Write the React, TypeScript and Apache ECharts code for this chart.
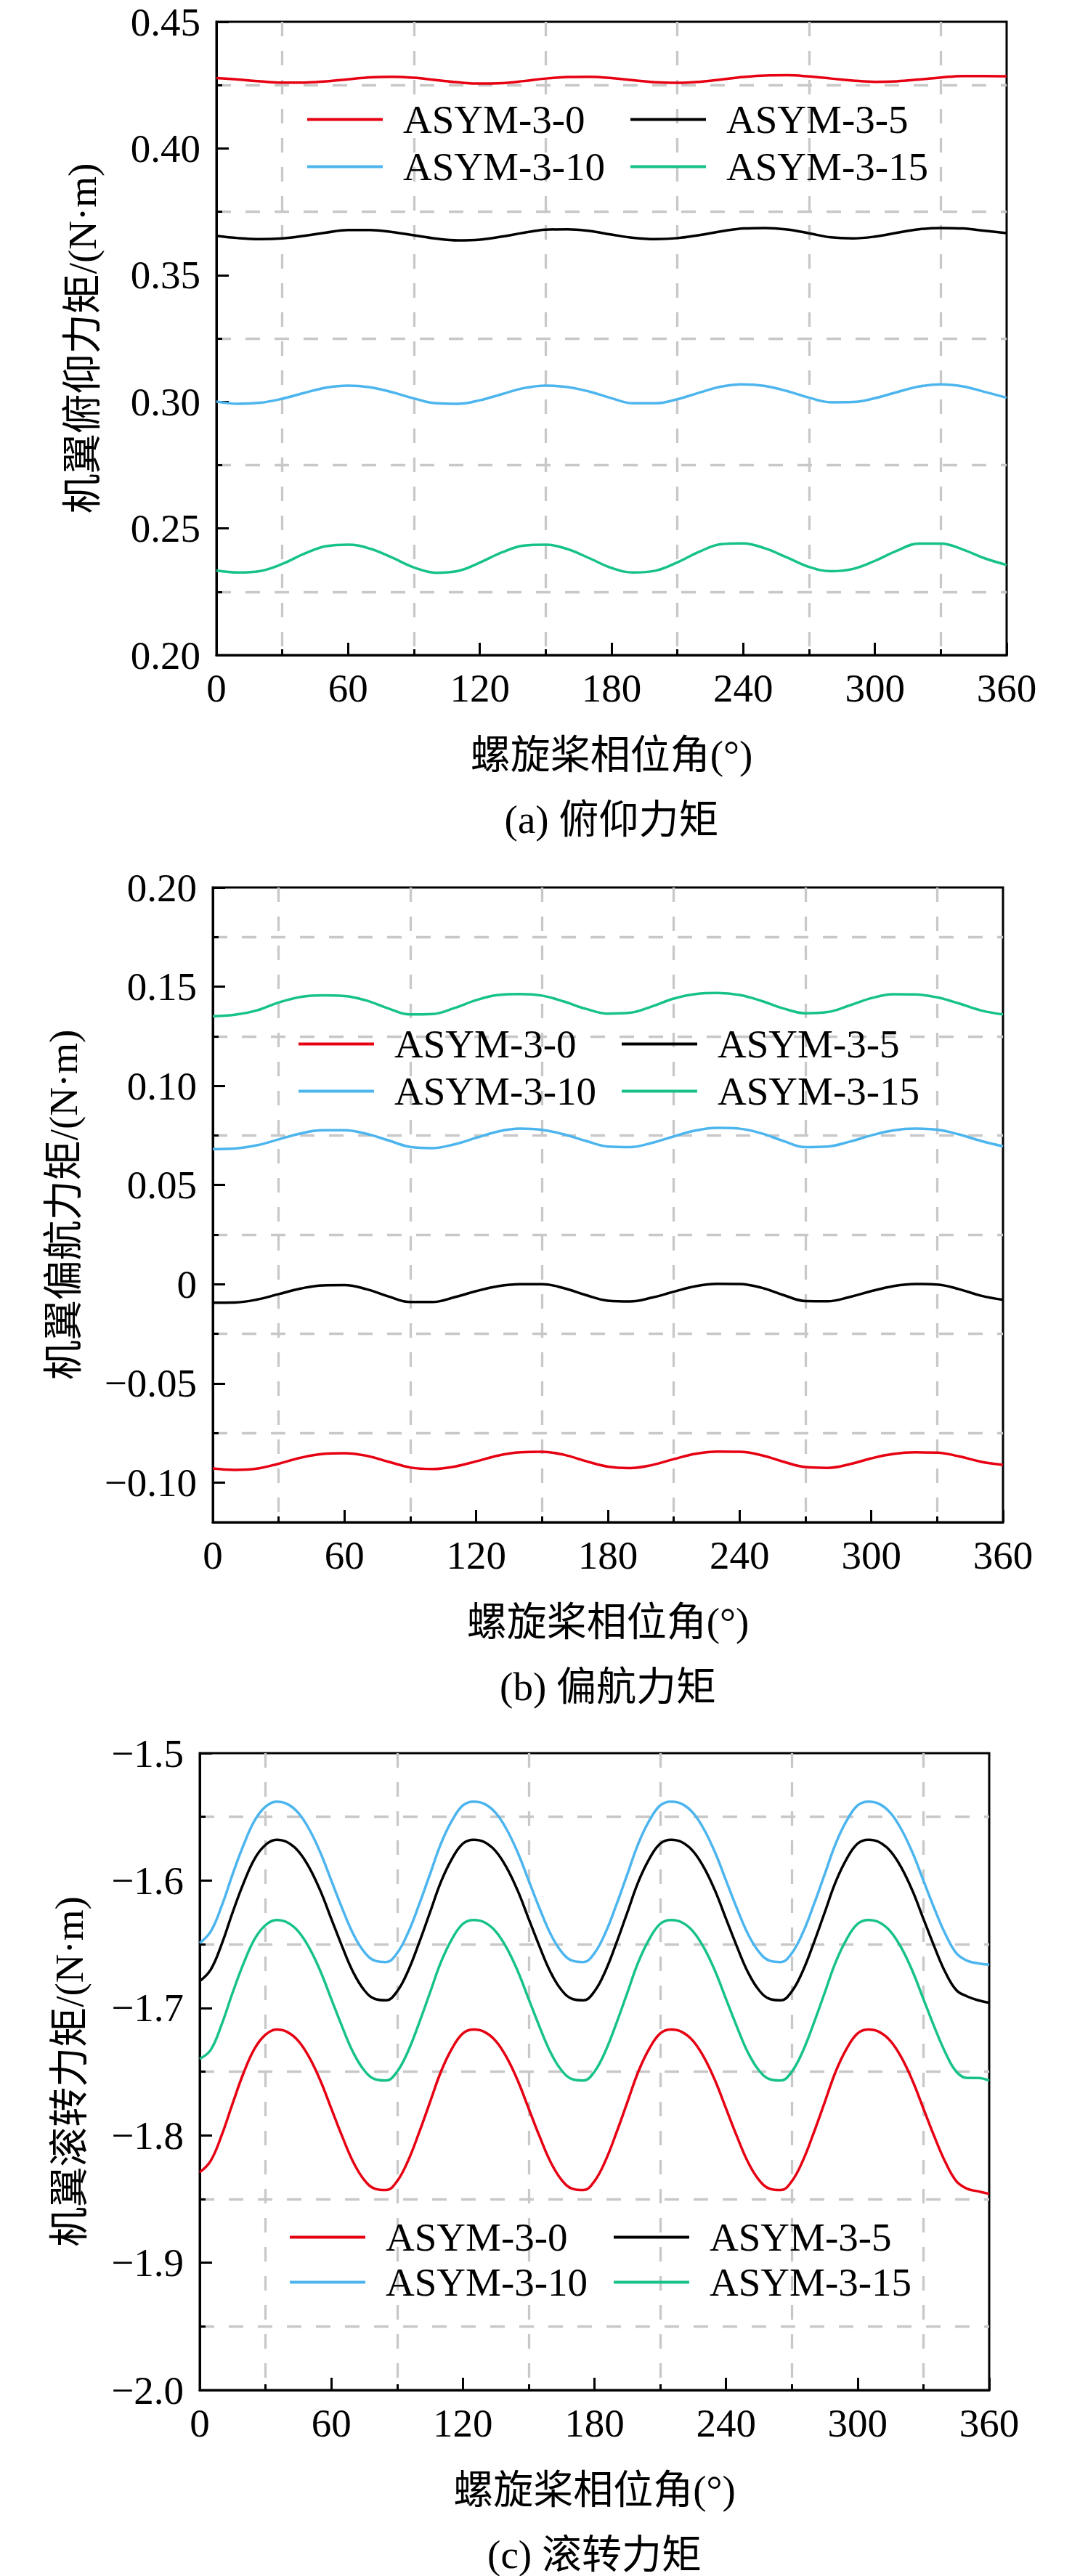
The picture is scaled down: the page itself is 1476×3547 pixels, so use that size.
import React, { useEffect, useRef } from "react";
import * as echarts from "echarts";

const FONT = "'Liberation Serif', 'Times New Roman', 'Noto Sans CJK SC', serif";

const seriesNames = ["ASYM-3-0", "ASYM-3-5", "ASYM-3-10", "ASYM-3-15"];
const seriesColors = ["#e60012", "#000000", "#4db5ee", "#17c28a"];

// 10 deg steps for (a) and (b)
const anglesCoarse = [
  0, 10, 20, 30, 40, 50, 60, 70, 80, 90, 100, 110, 120, 130, 140, 150, 160, 170, 180,
  190, 200, 210, 220, 230, 240, 250, 260, 270, 280, 290, 300, 310, 320, 330, 340, 350, 360,
];

// 5 deg steps for (c)
const anglesFine = [
  0, 5, 10, 15, 20, 25, 30, 35, 40, 45, 50, 55, 60, 65, 70, 75, 80, 85, 90, 95, 100, 105,
  110, 115, 120, 125, 130, 135, 140, 145, 150, 155, 160, 165, 170, 175, 180, 185, 190, 195,
  200, 205, 210, 215, 220, 225, 230, 235, 240, 245, 250, 255, 260, 265, 270, 275, 280, 285,
  290, 295, 300, 305, 310, 315, 320, 325, 330, 335, 340, 345, 350, 355, 360,
];

// (a) pitch moment
const pitch0 = [
  0.4278, 0.4272, 0.4265, 0.426, 0.426, 0.4265, 0.4273, 0.4281, 0.4283, 0.4279, 0.427,
  0.4261, 0.4256, 0.4258, 0.4266, 0.4276, 0.4282, 0.4283, 0.4278, 0.4269, 0.4261, 0.4259,
  0.4263, 0.4272, 0.4282, 0.4288, 0.4289, 0.4284, 0.4276, 0.4268, 0.4263, 0.4265, 0.4272,
  0.428, 0.4286, 0.4286, 0.4285,
];
const pitch5 = [
  0.3655, 0.3646, 0.3642, 0.3645, 0.3655, 0.3668, 0.3678, 0.3678, 0.367, 0.3657, 0.3644,
  0.3637, 0.364, 0.3652, 0.3667, 0.3679, 0.3681, 0.3674, 0.366, 0.3647, 0.3642, 0.3646,
  0.3658, 0.3673, 0.3684, 0.3686, 0.368, 0.3665, 0.3649, 0.3645, 0.3652, 0.3667, 0.3681,
  0.3686, 0.3684, 0.3675, 0.3666,
];
const pitch10 = [
  0.3001, 0.2992, 0.2996, 0.3012, 0.3035, 0.3056, 0.3064, 0.3057, 0.3038, 0.3013, 0.2994,
  0.2992, 0.3006, 0.303, 0.3054, 0.3064, 0.3058, 0.304, 0.3014, 0.2994, 0.2994, 0.301,
  0.3036, 0.306, 0.3069, 0.3062, 0.3042, 0.3016, 0.2998, 0.2999, 0.3014, 0.3038, 0.306,
  0.3069, 0.3061, 0.3039, 0.3016,
];
const pitch15 = [
  0.2334, 0.2326, 0.2332, 0.236, 0.24, 0.243, 0.2436, 0.242, 0.2385, 0.2346, 0.2325,
  0.2332, 0.2365, 0.2405, 0.2432, 0.2436, 0.2418, 0.2382, 0.2344, 0.2326, 0.2333, 0.2366,
  0.2408, 0.2438, 0.2441, 0.2421, 0.2385, 0.2348, 0.2331, 0.234, 0.2372, 0.2412, 0.244,
  0.244, 0.2417, 0.2382, 0.2356,
];

// (b) yaw moment
const yaw0 = [
  -0.0929, -0.0936, -0.093, -0.0905, -0.0875, -0.0856, -0.0852, -0.0865, -0.0895, -0.0924,
  -0.0932, -0.092, -0.0893, -0.0864, -0.0848, -0.0845, -0.086, -0.0892, -0.092, -0.0927,
  -0.0912, -0.0882, -0.0855, -0.0844, -0.0845, -0.0862, -0.0895, -0.0922, -0.0926, -0.0908,
  -0.0878, -0.0856, -0.0848, -0.0849, -0.0868, -0.0895, -0.0911,
];
const yaw5 = [
  -0.0093, -0.0092, -0.0078, -0.005, -0.0022, -0.0006, -0.0005, -0.0025, -0.0062, -0.009,
  -0.009, -0.0066, -0.0035, -0.001, 0.0, 0.0, -0.002, -0.0055, -0.0083, -0.0087, -0.0068,
  -0.0038, -0.001, 0.0002, 0.0001, -0.0018, -0.0055, -0.0085, -0.0086, -0.0065, -0.0035,
  -0.001, 0.0001, -0.0002, -0.0025, -0.0058, -0.0079,
];
const yaw10 = [
  0.0681, 0.0684, 0.07, 0.073, 0.076, 0.0776, 0.0776, 0.0758, 0.0725, 0.0692, 0.0686,
  0.0705, 0.0738, 0.077, 0.0784, 0.0778, 0.0755, 0.0722, 0.0694, 0.0691, 0.0712, 0.0745,
  0.0775, 0.0788, 0.0784, 0.076, 0.0722, 0.0691, 0.0694, 0.0718, 0.075, 0.0775, 0.0784,
  0.0779, 0.0755, 0.0722, 0.0695,
];
const yaw15 = [
  0.1351, 0.1358, 0.138, 0.142, 0.1448, 0.1456, 0.1453, 0.143, 0.139, 0.136, 0.1362,
  0.1392, 0.1432, 0.1458, 0.1463, 0.1455, 0.1425, 0.1388, 0.1364, 0.1368, 0.14, 0.144,
  0.1463, 0.1468, 0.1458, 0.1428, 0.139, 0.1366, 0.1372, 0.1405, 0.1442, 0.1462, 0.1461,
  0.1446, 0.1415, 0.138, 0.136,
];

// (c) roll moment
const roll0 = [
  -1.829, -1.82, -1.8, -1.775, -1.751, -1.732, -1.721, -1.717, -1.719, -1.726, -1.739,
  -1.757, -1.779, -1.801, -1.821, -1.835, -1.842, -1.843, -1.836, -1.82, -1.798, -1.774,
  -1.75, -1.732, -1.72, -1.717, -1.719, -1.726, -1.739, -1.757, -1.779, -1.801, -1.821,
  -1.835, -1.842, -1.843, -1.836, -1.82, -1.798, -1.774, -1.75, -1.732, -1.72, -1.717,
  -1.719, -1.726, -1.739, -1.757, -1.779, -1.801, -1.821, -1.835, -1.842, -1.843, -1.836,
  -1.82, -1.798, -1.774, -1.75, -1.732, -1.72, -1.717, -1.719, -1.726, -1.739, -1.757,
  -1.779, -1.801, -1.821, -1.836, -1.842, -1.844, -1.846,
];
const roll5 = [
  -1.679, -1.67, -1.65, -1.625, -1.602, -1.583, -1.572, -1.568, -1.57, -1.577, -1.59,
  -1.608, -1.63, -1.652, -1.672, -1.686, -1.693, -1.694, -1.687, -1.671, -1.649, -1.625,
  -1.601, -1.583, -1.571, -1.568, -1.57, -1.577, -1.59, -1.608, -1.63, -1.652, -1.672,
  -1.686, -1.693, -1.694, -1.687, -1.671, -1.649, -1.625, -1.601, -1.583, -1.571, -1.568,
  -1.57, -1.577, -1.59, -1.608, -1.63, -1.652, -1.672, -1.686, -1.693, -1.694, -1.687,
  -1.671, -1.649, -1.625, -1.601, -1.583, -1.571, -1.568, -1.57, -1.577, -1.59, -1.608,
  -1.63, -1.652, -1.672, -1.686, -1.691, -1.694, -1.696,
];
const roll10 = [
  -1.649, -1.64, -1.62, -1.595, -1.572, -1.553, -1.542, -1.538, -1.54, -1.547, -1.56,
  -1.578, -1.6, -1.622, -1.642, -1.656, -1.663, -1.664, -1.657, -1.641, -1.619, -1.595,
  -1.571, -1.553, -1.541, -1.538, -1.54, -1.547, -1.56, -1.578, -1.6, -1.622, -1.642,
  -1.656, -1.663, -1.664, -1.657, -1.641, -1.619, -1.595, -1.571, -1.553, -1.541, -1.538,
  -1.54, -1.547, -1.56, -1.578, -1.6, -1.622, -1.642, -1.656, -1.663, -1.664, -1.657,
  -1.641, -1.619, -1.595, -1.571, -1.553, -1.541, -1.538, -1.54, -1.547, -1.56, -1.578,
  -1.6, -1.622, -1.642, -1.657, -1.663, -1.665, -1.666,
];
const roll15 = [
  -1.74, -1.733, -1.713, -1.688, -1.665, -1.646, -1.635, -1.631, -1.633, -1.64, -1.653,
  -1.671, -1.693, -1.715, -1.735, -1.749, -1.756, -1.757, -1.75, -1.734, -1.712, -1.688,
  -1.664, -1.646, -1.634, -1.631, -1.633, -1.64, -1.653, -1.671, -1.693, -1.715, -1.735,
  -1.749, -1.756, -1.757, -1.75, -1.734, -1.712, -1.688, -1.664, -1.646, -1.634, -1.631,
  -1.633, -1.64, -1.653, -1.671, -1.693, -1.715, -1.735, -1.749, -1.756, -1.757, -1.75,
  -1.734, -1.712, -1.688, -1.664, -1.646, -1.634, -1.631, -1.633, -1.64, -1.653, -1.671,
  -1.693, -1.715, -1.735, -1.75, -1.755, -1.755, -1.757,
];

// y axis ticks for (b), whose range starts at -0.12
const yTicksB = [-0.1, -0.05, 0, 0.05, 0.1, 0.15, 0.2];
const yMinorB = [-0.075, -0.025, 0.025, 0.075, 0.125, 0.175];

const panels = [
  {
    grid: { left: 298, top: 30, width: 1088, height: 872 },
    x: anglesCoarse,
    values: [pitch0, pitch5, pitch10, pitch15],
    yMin: 0.2, yMax: 0.45, yInterval: 0.05, digits: 2,
    yTitle: "机翼俯仰力矩/(N·m)", yTitleX: 113,
    caption: "(a) 俯仰力矩",
    legendLeft: [423, 868], legendTop: 137,
  },
  {
    grid: { left: 293, top: 1222, width: 1088, height: 874 },
    x: anglesCoarse,
    values: [yaw0, yaw5, yaw10, yaw15],
    yMin: -0.12, yMax: 0.2, yInterval: 0, digits: 2,
    yTitle: "机翼偏航力矩/(N·m)", yTitleX: 87,
    caption: "(b) 偏航力矩",
    legendLeft: [411, 856], legendTop: 1410,
  },
  {
    grid: { left: 275, top: 2414, width: 1087, height: 877 },
    x: anglesFine,
    values: [roll0, roll5, roll10, roll15],
    yMin: -2.0, yMax: -1.5, yInterval: 0.1, digits: 1,
    yTitle: "机翼滚转力矩/(N·m)", yTitleX: 95,
    caption: "(c) 滚转力矩",
    legendLeft: [399, 845], legendTop: 3053,
  },
];

const fmt = (v: number, digits: number) => {
  if (Math.abs(v) < 1e-9) return "0";
  const s = Math.abs(v).toFixed(digits);
  return v < 0 ? "\u2212" + s : s;
};

const black = "#000";
const gridGray = "#c8c8c8";
const dash = [20, 20];

const App: React.FC = () => {
  const chartRef = useRef<HTMLDivElement>(null);

  useEffect(() => {
    if (!chartRef.current) return;
    document.body.style.margin = "0";
    const chart = echarts.init(chartRef.current, undefined, { renderer: "svg" });

    const grids: any[] = [];
    const xAxes: any[] = [];
    const yAxes: any[] = [];
    const series: any[] = [];
    const legends: any[] = [];
    const graphics: any[] = [];

    const tickStyle = { color: black, width: 3 };
    const labelStyle = { fontSize: 55, fontFamily: FONT, color: black };
    const dashed = { color: gridGray, width: 3.3, type: dash };

    panels.forEach((p, i) => {
      grids.push({
        ...p.grid,
        show: true,
        borderColor: black,
        borderWidth: 3,
        backgroundColor: "transparent",
        containLabel: false,
        outerBoundsMode: "none",
      });

      xAxes.push({
        gridIndex: i,
        type: "value",
        min: 0,
        max: 360,
        interval: 60,
        axisLine: { show: true, onZero: false, lineStyle: tickStyle },
        axisTick: { show: true, inside: true, length: 17, lineStyle: tickStyle },
        minorTick: { show: true, splitNumber: 2, length: 8, lineStyle: tickStyle },
        minorSplitLine: { show: true, lineStyle: dashed },
        splitLine: { show: false },
        axisLabel: { ...labelStyle, margin: 18 },
      });

      const yIndex = yAxes.length;
      if (p.yInterval > 0) {
        yAxes.push({
          gridIndex: i,
          type: "value",
          min: p.yMin,
          max: p.yMax,
          interval: p.yInterval,
          axisLine: { show: true, onZero: false, lineStyle: tickStyle },
          axisTick: { show: true, inside: true, length: 17, lineStyle: tickStyle },
          minorTick: { show: true, splitNumber: 2, length: 8, lineStyle: tickStyle },
          minorSplitLine: { show: true, lineStyle: dashed },
          splitLine: { show: false },
          axisLabel: { ...labelStyle, margin: 22, formatter: (v: number) => fmt(v, p.digits) },
        });
      } else {
        yAxes.push({
          gridIndex: i,
          type: "value",
          position: "left",
          min: p.yMin,
          max: p.yMax,
          axisLine: { show: true, onZero: false, lineStyle: tickStyle },
          axisTick: { show: true, inside: true, length: 17, lineStyle: tickStyle, customValues: yTicksB },
          splitLine: { show: false },
          axisLabel: {
            ...labelStyle,
            margin: 22,
            customValues: yTicksB,
            formatter: (v: number) => fmt(v, p.digits),
          },
        });
        // second axis carries the minor ticks and the dashed lines
        yAxes.push({
          gridIndex: i,
          type: "value",
          position: "left",
          offset: 0,
          min: p.yMin,
          max: p.yMax,
          axisLine: { show: false },
          axisLabel: { show: false },
          axisTick: { show: true, inside: true, length: 8, lineStyle: tickStyle, customValues: yMinorB },
          splitLine: { show: true, lineStyle: dashed },
        });
      }

      p.values.forEach((vals, k) => {
        series.push({
          type: "line",
          name: seriesNames[k],
          xAxisIndex: i,
          yAxisIndex: yIndex,
          data: p.x.map((a, j) => [a, vals[j]]),
          showSymbol: false,
          symbol: "none",
          smooth: 0.4,
          lineStyle: { width: 3.5, color: seriesColors[k] },
          itemStyle: { color: seriesColors[k] },
          z: 5,
        });
      });

      const legendBase = {
        orient: "vertical",
        top: p.legendTop,
        padding: 0,
        itemGap: i === 2 ? 7 : 10,
        itemWidth: 104,
        itemHeight: 4,
        icon: "rect",
        formatter: "{a|{name}}",
        textStyle: {
          rich: {
            a: { fontSize: 55, fontFamily: FONT, color: black, lineHeight: 60, padding: [0, 0, 0, 23] },
          },
        },
      };
      legends.push({ ...legendBase, left: p.legendLeft[0], data: [seriesNames[0], seriesNames[2]] });
      legends.push({ ...legendBase, left: p.legendLeft[1], data: [seriesNames[1], seriesNames[3]] });

      const g = p.grid;
      const cx = g.left + g.width / 2;
      const bottom = g.top + g.height;
      const textStyle = { fontSize: 55, fontFamily: FONT, fill: black, align: "center", verticalAlign: "middle" };
      graphics.push({
        type: "text",
        x: p.yTitleX,
        y: g.top + g.height / 2,
        rotation: Math.PI / 2,
        style: { ...textStyle, text: p.yTitle },
      });
      graphics.push({
        type: "text",
        x: cx,
        y: bottom + 137,
        style: { ...textStyle, text: "螺旋桨相位角(°)" },
      });
      graphics.push({
        type: "text",
        x: cx,
        y: bottom + 226,
        style: { ...textStyle, text: p.caption },
      });
    });

    chart.setOption({
      animation: false,
      backgroundColor: "#fff",
      textStyle: { fontFamily: FONT },
      grid: grids,
      xAxis: xAxes,
      yAxis: yAxes,
      legend: legends,
      series,
      graphic: graphics,
    });

    const handleResize = () => chart.resize();
    window.addEventListener("resize", handleResize);
    return () => {
      window.removeEventListener("resize", handleResize);
      chart.dispose();
    };
  }, []);

  return <div ref={chartRef} style={{ width: 1476, height: 3547 }} />;
};

export default App;
